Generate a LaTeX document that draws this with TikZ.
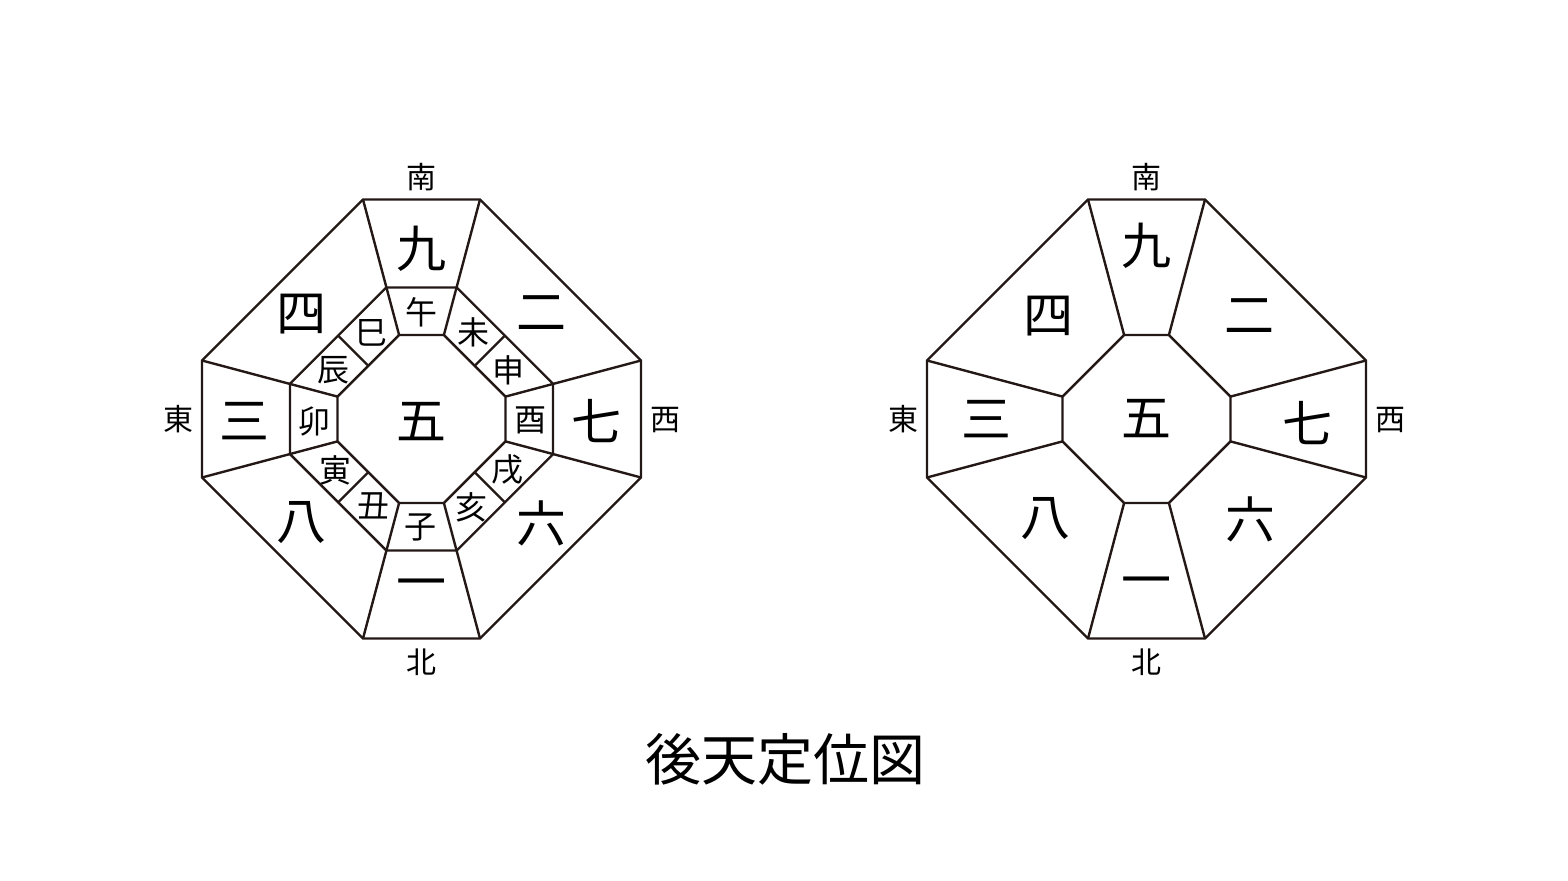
\documentclass[tikz,border=0pt]{standalone}
\usepackage{fontspec}
\newfontfamily\jp{Noto Sans CJK JP}
\usetikzlibrary{calc}
\definecolor{sen}{HTML}{231815}

\begin{document}
\begin{tikzpicture}[x=0.5pt, y=-0.5pt,
    waku/.style={draw=sen, line width=1.2pt, line join=miter},
    suji/.style={inner sep=0pt, font=\jp\fontsize{25}{25}\selectfont},
    shi/.style={inner sep=0pt, font=\jp\fontsize{16}{16}\selectfont},
    houi/.style={inner sep=0pt, font=\jp\fontsize{15}{15}\selectfont}]
    \useasboundingbox (0,0) rectangle (1568,881);

    % left: with the twelve branches
    \begin{scope}[shift={(421.5,419)}]
    \coordinate (Lo1) at (-58.5,-219.5);
    \coordinate (Lo2) at (58.5,-219.5);
    \coordinate (Lo3) at (219.5,-58.5);
    \coordinate (Lo4) at (219.5,58.5);
    \coordinate (Lo5) at (58.5,219.5);
    \coordinate (Lo6) at (-58.5,219.5);
    \coordinate (Lo7) at (-219.5,58.5);
    \coordinate (Lo8) at (-219.5,-58.5);
    \coordinate (Lr1) at (-35.2,-131.5);
    \coordinate (Lr2) at (35.2,-131.5);
    \coordinate (Lr3) at (131.5,-35.2);
    \coordinate (Lr4) at (131.5,35.2);
    \coordinate (Lr5) at (35.2,131.5);
    \coordinate (Lr6) at (-35.2,131.5);
    \coordinate (Lr7) at (-131.5,35.2);
    \coordinate (Lr8) at (-131.5,-35.2);
    \coordinate (Li1) at (-22.4,-84);
    \coordinate (Li2) at (22.4,-84);
    \coordinate (Li3) at (84,-22.4);
    \coordinate (Li4) at (84,22.4);
    \coordinate (Li5) at (22.4,84);
    \coordinate (Li6) at (-22.4,84);
    \coordinate (Li7) at (-84,22.4);
    \coordinate (Li8) at (-84,-22.4);
    \end{scope}

    \draw[waku] (Lo1) -- (Lo2) -- (Lo3) -- (Lo4) -- (Lo5) -- (Lo6) -- (Lo7) -- (Lo8) -- cycle;
    \draw[waku] (Lr1) -- (Lr2) -- (Lr3) -- (Lr4) -- (Lr5) -- (Lr6) -- (Lr7) -- (Lr8) -- cycle;
    \draw[waku] (Li1) -- (Li2) -- (Li3) -- (Li4) -- (Li5) -- (Li6) -- (Li7) -- (Li8) -- cycle;
    \draw[waku] (Lo1) -- (Li1);
    \draw[waku] (Lo2) -- (Li2);
    \draw[waku] (Lo3) -- (Li3);
    \draw[waku] (Lo4) -- (Li4);
    \draw[waku] (Lo5) -- (Li5);
    \draw[waku] (Lo6) -- (Li6);
    \draw[waku] (Lo7) -- (Li7);
    \draw[waku] (Lo8) -- (Li8);
    \draw[waku] ($(Li2)!0.5!(Li3)$) -- ($(Lr2)!0.5!(Lr3)$);
    \draw[waku] ($(Li4)!0.5!(Li5)$) -- ($(Lr4)!0.5!(Lr5)$);
    \draw[waku] ($(Li6)!0.5!(Li7)$) -- ($(Lr6)!0.5!(Lr7)$);
    \draw[waku] ($(Li8)!0.5!(Li1)$) -- ($(Lr8)!0.5!(Lr1)$);

    \node (minamiL) [houi] at (421.5,177) {南};
    \node (kitaL) [houi] at (421.5,662) {北};
    \node (higashiL) [houi] at (178,419) {東};
    \node (nishiL) [houi] at (665,420) {西};

    \node (kyuL) [suji] at (421.5,249) {九};
    \node (shiL) [suji] at (301,314) {四};
    \node (niL) [suji] at (541.5,313) {二};
    \node (sanL) [suji] at (244,421.5) {三};
    \node (goL) [suji] at (421.5,421.5) {五};
    \node (nanaL) [suji] at (596.5,421.5) {七};
    \node (hachiL) [suji] at (301.5,523) {八};
    \node (rokuL) [suji] at (541.5,523) {六};
    \node (ichiL) [suji] at (421.5,590) {一};

    \node (uma) [shi] at (421.5,312) {午};
    \node (hitsuji) [shi] at (473,332) {未};
    \node (saru) [shi] at (508.5,370) {申};
    \node (tori) [shi] at (530,420) {酉};
    \node (inu) [shi] at (507,470) {戌};
    \node (i) [shi] at (471,507) {亥};
    \node (ne) [shi] at (420.5,527) {子};
    \node (ushi) [shi] at (373.5,506) {丑};
    \node (tora) [shi] at (335,470) {寅};
    \node (u) [shi] at (314,421.5) {卯};
    \node (tatsu) [shi] at (333.5,370) {辰};
    \node (mi) [shi] at (371.5,333) {巳};

    % right: nine palaces only
    \begin{scope}[shift={(1146.5,419)}]
    \coordinate (Ro1) at (-58.5,-219.5);
    \coordinate (Ro2) at (58.5,-219.5);
    \coordinate (Ro3) at (219.5,-58.5);
    \coordinate (Ro4) at (219.5,58.5);
    \coordinate (Ro5) at (58.5,219.5);
    \coordinate (Ro6) at (-58.5,219.5);
    \coordinate (Ro7) at (-219.5,58.5);
    \coordinate (Ro8) at (-219.5,-58.5);
    \coordinate (Ri1) at (-22.4,-84);
    \coordinate (Ri2) at (22.4,-84);
    \coordinate (Ri3) at (84,-22.4);
    \coordinate (Ri4) at (84,22.4);
    \coordinate (Ri5) at (22.4,84);
    \coordinate (Ri6) at (-22.4,84);
    \coordinate (Ri7) at (-84,22.4);
    \coordinate (Ri8) at (-84,-22.4);
    \end{scope}

    \draw[waku] (Ro1) -- (Ro2) -- (Ro3) -- (Ro4) -- (Ro5) -- (Ro6) -- (Ro7) -- (Ro8) -- cycle;
    \draw[waku] (Ri1) -- (Ri2) -- (Ri3) -- (Ri4) -- (Ri5) -- (Ri6) -- (Ri7) -- (Ri8) -- cycle;
    \draw[waku] (Ro1) -- (Ri1);
    \draw[waku] (Ro2) -- (Ri2);
    \draw[waku] (Ro3) -- (Ri3);
    \draw[waku] (Ro4) -- (Ri4);
    \draw[waku] (Ro5) -- (Ri5);
    \draw[waku] (Ro6) -- (Ri6);
    \draw[waku] (Ro7) -- (Ri7);
    \draw[waku] (Ro8) -- (Ri8);

    \node (minamiR) [houi] at (1146.5,177) {南};
    \node (kitaR) [houi] at (1146.5,662) {北};
    \node (higashiR) [houi] at (903,419) {東};
    \node (nishiR) [houi] at (1390,420) {西};

    \node (kyuR) [suji] at (1146.5,246) {九};
    \node (shiR) [suji] at (1048,316) {四};
    \node (niR) [suji] at (1249,316) {二};
    \node (sanR) [suji] at (986,419) {三};
    \node (goR) [suji] at (1146.5,419) {五};
    \node (nanaR) [suji] at (1307,423) {七};
    \node (hachiR) [suji] at (1045,519) {八};
    \node (rokuR) [suji] at (1250,519) {六};
    \node (ichiR) [suji] at (1146.5,588) {一};

    \node (title) [inner sep=0pt, font=\jp\fontsize{28}{28}\selectfont] at (785,759) {後天定位図};
\end{tikzpicture}
\end{document}
